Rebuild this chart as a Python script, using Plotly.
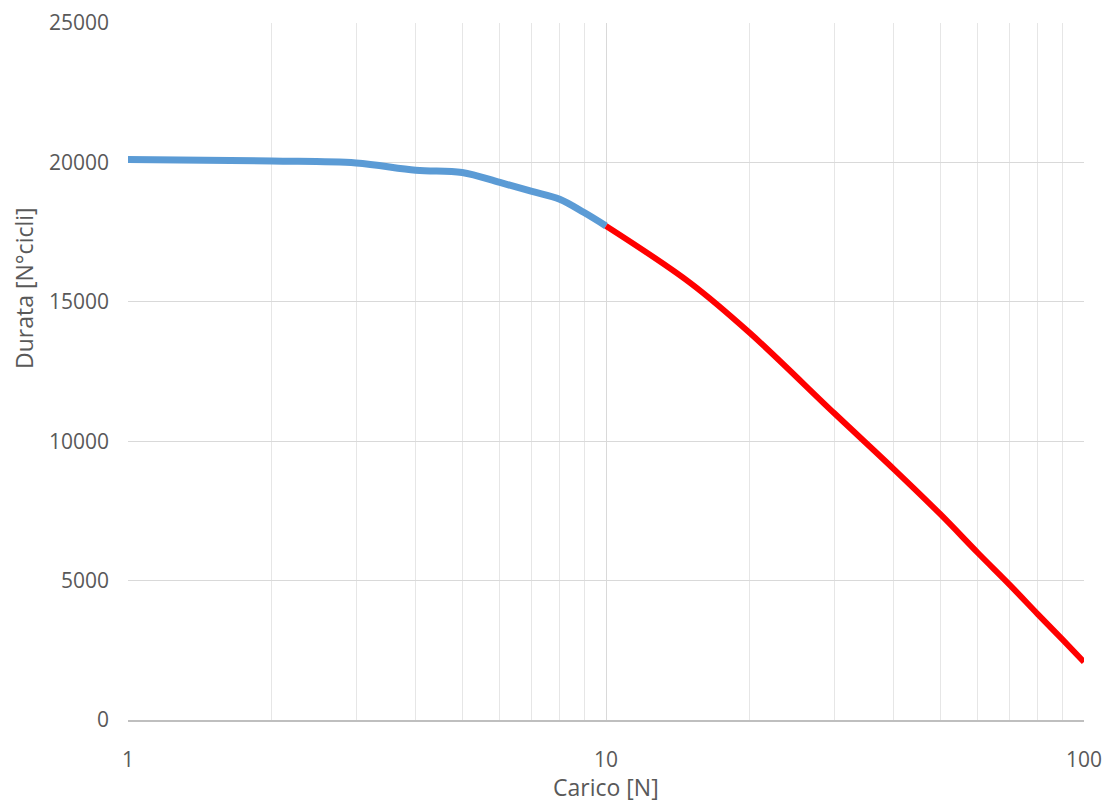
import plotly.graph_objects as go

# Data
carico_blu = [1, 2, 3, 4, 5, 6, 7, 8, 9, 10]
durata_blu = [20100, 20050, 19980, 19720, 19640, 19280, 18960, 18680, 18200, 17720]

carico_rosso = [10, 15, 20, 30, 40, 50, 60, 70, 80, 90, 100]
durata_rosso = [17720, 15680, 13880, 11010, 9000, 7390, 5990, 4840, 3800, 2900, 2080]

y_ticks = [0, 5000, 10000, 15000, 20000, 25000]
x_ticks = [1, 10, 100]

FONT = "Open Sans"
GREY = "#595959"
TICK_SIZE = 21
TITLE_SIZE = 23

fig = go.Figure()
fig.add_trace(go.Scatter(x=carico_blu, y=durata_blu, mode="lines",
                         line=dict(color="#5B9BD5", width=7, shape="spline", smoothing=1.0),
                         showlegend=False, hoverinfo="skip"))
fig.add_trace(go.Scatter(x=carico_rosso, y=durata_rosso, mode="lines",
                         line=dict(color="#FF0000", width=6, shape="spline", smoothing=1.0),
                         showlegend=False, hoverinfo="skip"))

fig.update_layout(
    width=1105, height=803,
    margin=dict(l=128, r=21, t=23, b=83, autoexpand=False),
    paper_bgcolor="white", plot_bgcolor="white",
    font=dict(family=FONT, size=TICK_SIZE, color=GREY),
)
fig.update_xaxes(
    type="log", range=[0, 2], automargin=False,
    tickvals=x_ticks, ticktext=[str(v) for v in x_ticks],
    showgrid=True, gridcolor="#d9d9d9", gridwidth=1,
    minor=dict(showgrid=True, gridcolor="#e6e6e6", gridwidth=1,
               tickvals=[2, 3, 4, 5, 6, 7, 8, 9, 20, 30, 40, 50, 60, 70, 80, 90]),
    showline=True, linecolor="#bfbfbf", linewidth=1.5,
    zeroline=False, ticks="", ticklabelstandoff=20,
    tickfont=dict(size=TICK_SIZE, color=GREY),
)
fig.update_yaxes(
    range=[0, 25000], automargin=False,
    tickvals=y_ticks, ticktext=[str(v) for v in y_ticks],
    showgrid=True, gridcolor="#d9d9d9", gridwidth=1,
    zeroline=False, showline=False, ticks="", ticklabelstandoff=18,
    tickfont=dict(size=TICK_SIZE, color=GREY),
)
fig.add_annotation(text="Durata [N°cicli]", xref="paper", yref="paper",
                   x=(24 - 128) / 956, y=(720 - 288) / 697, textangle=-90, showarrow=False,
                   font=dict(size=TITLE_SIZE, color=GREY, family=FONT),
                   xanchor="center", yanchor="middle")
fig.add_annotation(text="Carico [N]", xref="paper", yref="paper",
                   x=(606 - 128) / 956, y=-(787 - 720) / 697, showarrow=False,
                   font=dict(size=TITLE_SIZE, color=GREY, family=FONT),
                   xanchor="center", yanchor="middle")

fig.write_html(
    "out.html",
    config={"displayModeBar": False},
    post_script="document.body.style.margin='0';document.body.style.overflow='hidden';",
)
